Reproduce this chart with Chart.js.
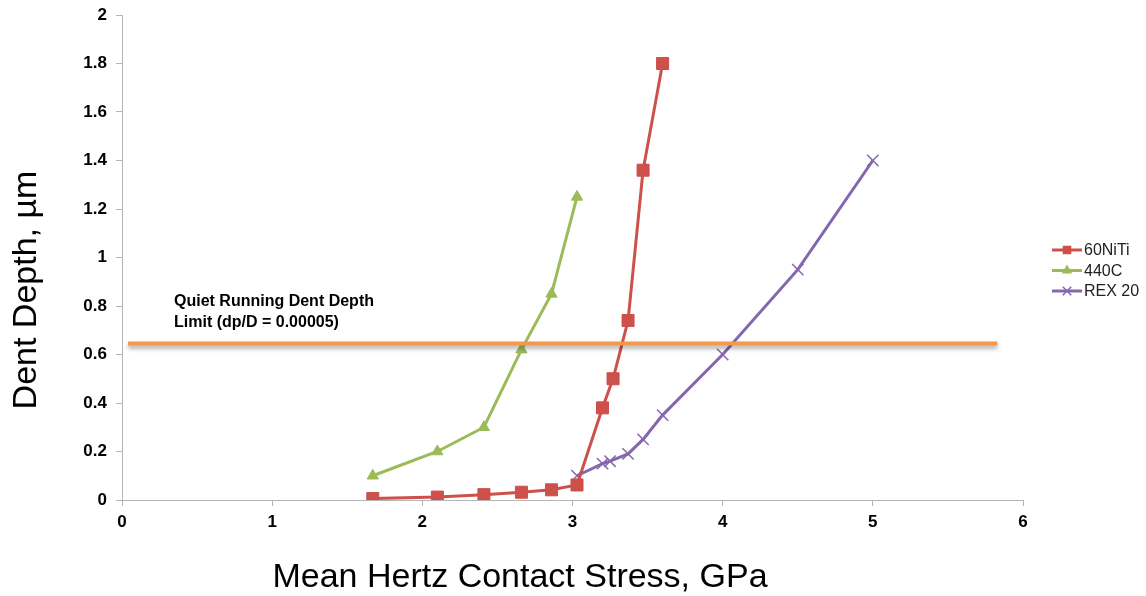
<!DOCTYPE html>
<html>
<head>
<meta charset="utf-8">
<script src="https://cdn.jsdelivr.net/npm/chart.js@4.4.1/dist/chart.umd.min.js"></script>
<style>
  html, body { margin: 0; padding: 0; background: #fff; }
  #wrap { width: 1146px; height: 596px; }
</style>
</head>
<body>
<div id="wrap"><canvas id="myChart" width="1146" height="596"></canvas></div>
<script>
var ctx = document.getElementById('myChart').getContext('2d');

// values
var series = ['60NiTi', '440C', 'REX 20'];

var nitiX = [1.67, 2.1, 2.41, 2.66, 2.86, 3.03, 3.2, 3.27, 3.37, 3.47, 3.6];
var nitiY = [0.006, 0.012, 0.022, 0.032, 0.042, 0.062, 0.38, 0.5, 0.74, 1.36, 1.8];

var c440X = [1.67, 2.1, 2.41, 2.66, 2.86, 3.03];
var c440Y = [0.1, 0.2, 0.3, 0.62, 0.85, 1.25];

var rexX = [3.03, 3.2, 3.25, 3.37, 3.47, 3.6, 4.0, 4.5, 5.0];
var rexY = [0.1, 0.15, 0.16, 0.19, 0.25, 0.35, 0.6, 0.95, 1.4];

var limitX = [0.04, 5.83];
var limitY = [0.645, 0.645];
var limitText = ['Quiet Running Dent Depth', 'Limit (dp/D = 0.00005)'];

var xTicks = [0, 1, 2, 3, 4, 5, 6];
var yTicks = [0, 0.2, 0.4, 0.6, 0.8, 1, 1.2, 1.4, 1.6, 1.8, 2];

var color = ['#CD504B', '#9BBB59', '#8467AE'];
var limitColor = '#F4994B';
var font = 'Liberation Sans, Arial, sans-serif';

function pts(xs, ys) {
  return xs.map(function(x, i) { return {x: x, y: ys[i]}; });
}

var styles = [
  {pointStyle: 'rect', radius: 8.5, legendRadius: 5},
  {pointStyle: 'triangle', radius: 6.5, legendRadius: 4.5},
  {pointStyle: 'crossRot', radius: 8, legendRadius: 6}
];

var datasets = [
  {label: series[0], data: pts(nitiX, nitiY)},
  {label: series[1], data: pts(c440X, c440Y)},
  {label: series[2], data: pts(rexX, rexY)}
].map(function(d, i) {
  d.borderColor = color[i];
  d.backgroundColor = color[i];
  d.borderWidth = 3;
  d.pointStyle = styles[i].pointStyle;
  d.pointRadius = styles[i].radius;
  d.pointBorderWidth = i == 2 ? 1.5 : 1;
  d.pointHoverRadius = styles[i].radius;
  d.tension = 0;
  d.order = 1;
  return d;
});

datasets.push({
  label: 'limit',
  data: pts(limitX, limitY),
  borderColor: limitColor,
  borderWidth: 4,
  pointRadius: 0,
  order: 0,
  isLimit: true
});

var extras = {
  id: 'extras',
  beforeDatasetDraw: function(chart, args) {
    if (chart.data.datasets[args.index].isLimit) {
      chart.ctx.save();
      chart.ctx.shadowColor = 'rgba(0,0,0,0.35)';
      chart.ctx.shadowBlur = 4;
      chart.ctx.shadowOffsetY = 3;
    }
  },
  afterDatasetDraw: function(chart, args) {
    if (chart.data.datasets[args.index].isLimit) {
      chart.ctx.restore();
    }
  },
  afterDraw: function(chart) {
    var c = chart.ctx;
    c.save();
    c.fillStyle = '#000';

    // annotation over the limit line
    c.font = 'bold 16px ' + font;
    c.textAlign = 'left';
    c.textBaseline = 'middle';
    c.fillText(limitText[0], 174, 302);
    c.fillText(limitText[1], 174, 323);

    // axis titles
    c.font = '34px ' + font;
    c.textAlign = 'center';
    c.fillText('Mean Hertz Contact Stress, GPa', 520, 578);
    c.save();
    c.translate(27, 290);
    c.rotate(-Math.PI / 2);
    c.fillText('Dent Depth, \u00b5m', 0, 0);
    c.restore();

    // legend
    c.font = '16px ' + font;
    c.textAlign = 'left';
    for (var i = 0; i < series.length; i++) {
      var y = 250 + i * 20.5;
      c.strokeStyle = color[i];
      c.lineWidth = 3;
      c.beginPath();
      c.moveTo(1052, y);
      c.lineTo(1082, y);
      c.stroke();
      c.fillStyle = color[i];
      c.lineWidth = 1.5;
      Chart.helpers.drawPoint(c, {
        pointStyle: styles[i].pointStyle,
        radius: styles[i].legendRadius,
        borderWidth: 1.5,
        rotation: 0
      }, 1067, y);
      c.fillStyle = '#222';
      c.fillText(series[i], 1084, y + 1);
    }
    c.restore();
  }
};

var tickFont = {family: font, size: 17, weight: 'bold'};
var gridOpts = {drawOnChartArea: false, drawTicks: true, tickLength: 6, color: '#b5b5b5'};

new Chart(ctx, {
  type: 'line',
  data: {datasets: datasets},
  options: {
    responsive: false,
    animation: false,
    events: [],
    layout: {padding: {top: 15, right: 123, left: 0, bottom: 0}},
    plugins: {
      legend: {display: false},
      tooltip: {enabled: false}
    },
    scales: {
      x: {
        type: 'linear',
        min: xTicks[0],
        max: xTicks[xTicks.length - 1],
        afterBuildTicks: function(scale) {
          scale.ticks = xTicks.map(function(v) { return {value: v}; });
        },
        afterFit: function(scale) {
          scale.height = 96;
          scale.paddingLeft = 0;
          scale.paddingRight = 0;
        },
        ticks: {color: '#000', font: tickFont, padding: 6, maxRotation: 0},
        grid: gridOpts,
        border: {color: '#b5b5b5', width: 1}
      },
      y: {
        type: 'linear',
        min: yTicks[0],
        max: yTicks[yTicks.length - 1],
        afterBuildTicks: function(scale) {
          scale.ticks = yTicks.map(function(v) { return {value: v}; });
        },
        afterFit: function(scale) {
          scale.width = 122;
          scale.paddingTop = 0;
          scale.paddingBottom = 0;
        },
        ticks: {
          color: '#000',
          font: tickFont,
          padding: 9,
          callback: function(v) { return String(Number(v.toFixed(1))); }
        },
        grid: gridOpts,
        border: {color: '#b5b5b5', width: 1}
      }
    }
  },
  plugins: [extras]
});
</script>
</body>
</html>
